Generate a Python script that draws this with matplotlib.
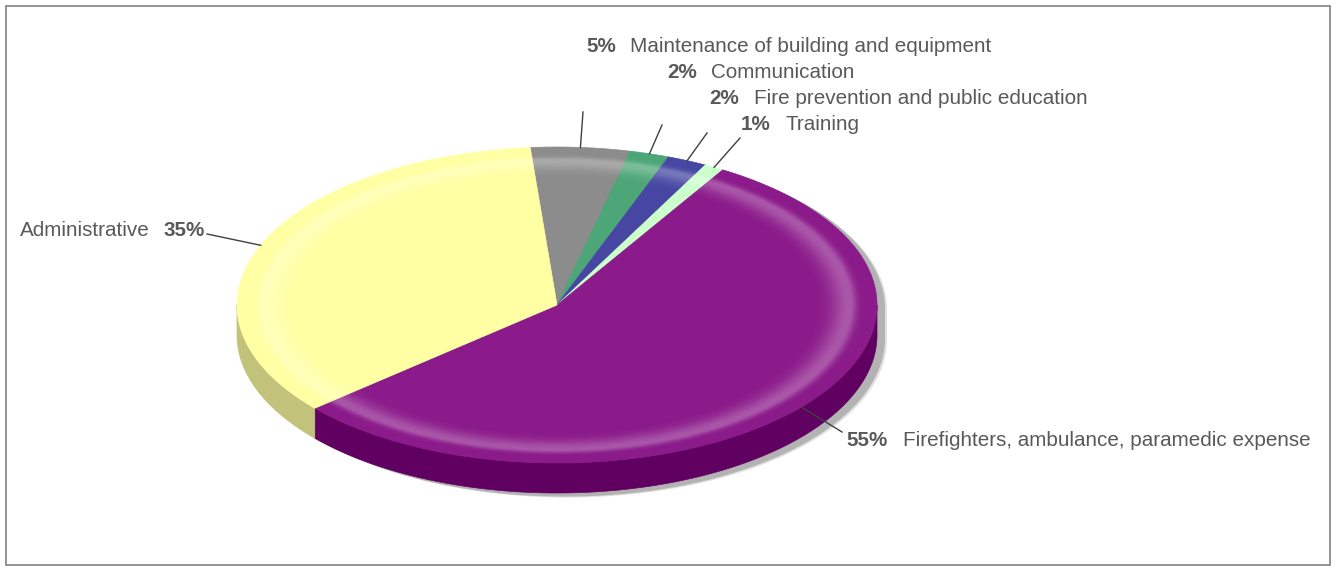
import numpy as np
import matplotlib.pyplot as plt
from matplotlib.patches import Polygon, Rectangle

# data
labels = ['Maintenance of building and equipment', 'Communication',
          'Fire prevention and public education', 'Training',
          'Firefighters, ambulance, paramedic expense', 'Administrative']
values = [5, 2, 2, 1, 55, 35]
top_colors = ['#8c8c8c', '#4da677', '#4747a3', '#ccffcc', '#8b1a8a', '#ffffa3']
side_colors = ['#5e5e5e', '#2f7050', '#2c2c70', '#99cc99', '#600060', '#c2c27a']

# layout (pixel frame)
cx, cy = 557, 305
rx, ry = 320, 158
depth = 30
start = 94.8
text_col = '#595959'
fs = 14.9
font = 'Liberation Sans'

# label placement: (pct_x, label_x, y, line_end, pct_first)
placement = [
    (616, 630, 46, (583, 112), True),
    (697, 711, 72, (662, 125), True),
    (739, 754, 98, (707, 133), True),
    (771, 786, 124, (740, 138), True),
    (888, 903, 440, (842, 432), True),
    (205, 150, 231, (207, 234), False),
]


def pts(t0, t1, r=1.0, dy=0.0, n=200):
    t = np.radians(np.linspace(t0, t1, n))
    return np.column_stack([cx + rx * r * np.cos(t), cy - ry * r * np.sin(t) + dy])


fig = plt.figure(figsize=(13.36, 5.70), dpi=100)
ax = fig.add_axes([0, 0, 1, 1])
ax.set_xlim(0, 1336)
ax.set_ylim(570, 0)
ax.axis('off')

ax.add_patch(Rectangle((6, 6), 1324, 559, fill=False, edgecolor='#808080', lw=1.2))

# shadow
sil = np.vstack([pts(0, 180), pts(180, 360, dy=depth)])
for off, a in [(10, 0.4), (8, 1.0)]:
    ax.add_patch(Polygon(sil + [off, off * 0.45], closed=True, facecolor='#b3b3b3',
                         edgecolor='none', alpha=a, zorder=1))

total = float(sum(values))
cum = np.concatenate([[0], np.cumsum(values)]) / total * 360
a0s = start - cum[:-1]
a1s = start - cum[1:]

# sides (front half only)
for a0, a1, sc in zip(a0s, a1s, side_colors):
    lo, hi = min(a0, a1), max(a0, a1)
    for k in (-360, 0, 360):
        s, e = max(lo + k, 180), min(hi + k, 360)
        if e > s:
            top = pts(s, e)
            bot = pts(e, s, dy=depth)
            ax.add_patch(Polygon(np.vstack([top, bot]), closed=True, facecolor=sc,
                                 edgecolor=sc, lw=0.5, zorder=2))

# top faces
for a0, a1, tc in zip(a0s, a1s, top_colors):
    poly = np.vstack([[cx, cy], pts(a0, a1)])
    ax.add_patch(Polygon(poly, closed=True, facecolor=tc, edgecolor=tc, lw=0.5, zorder=3))

# bevel highlight ring
rs = np.linspace(0.72, 0.985, 54)
for r0, r1 in zip(rs[:-1], rs[1:]):
    rm = 0.5 * (r0 + r1)
    sig = 0.055 if rm < 0.915 else 0.022
    a = 0.28 * np.exp(-((rm - 0.915) / sig) ** 2)
    ring = np.vstack([pts(0, 360, r=r1), pts(360, 0, r=r0)])
    ax.add_patch(Polygon(ring, closed=True, facecolor='white', edgecolor='none',
                         alpha=a, zorder=4))

# labels and leader lines
for v, lab, a0, a1, (px, lx, y, end, pfirst) in zip(values, labels, a0s, a1s, placement):
    mid = 0.5 * (a0 + a1)
    anchor = pts(mid, mid, n=1)[0]
    ax.plot([anchor[0], end[0]], [anchor[1], end[1]], color='#404040', lw=1, zorder=5)
    pct = f'{v / total * 100:.0f}%'
    ax.text(px, y, pct, ha='right', va='center', fontsize=fs, fontweight='bold',
            color=text_col, family=font)
    ax.text(lx, y, lab, ha='left' if pfirst else 'right', va='center', fontsize=fs,
            color=text_col, family=font)

fig.savefig('out.png', dpi=100)
